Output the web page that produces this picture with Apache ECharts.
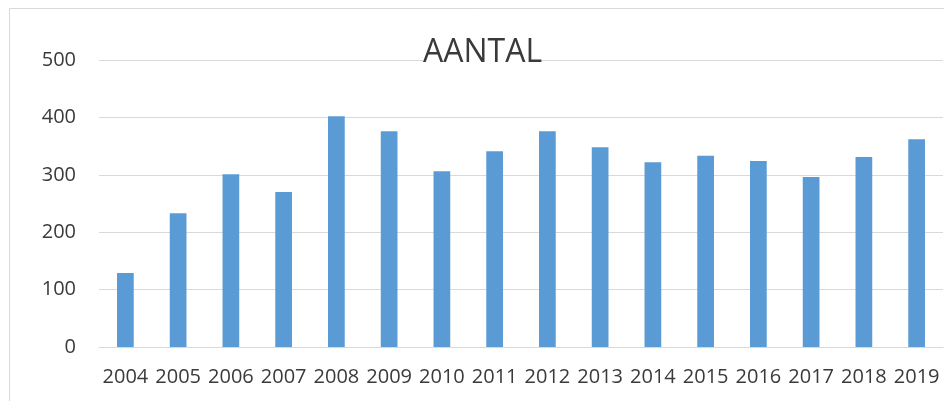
<!DOCTYPE html>
<html>
<head>
<meta charset="utf-8">
<style>
  html, body { margin: 0; padding: 0; background: #fff; }
  #chart { width: 944px; height: 401px; }
</style>
<script src="https://cdn.jsdelivr.net/npm/echarts@6/dist/echarts.min.js"></script>
</head>
<body>
<div id="chart"></div>
<script>
var years = ["2004", "2005", "2006", "2007", "2008", "2009", "2010", "2011",
  "2012", "2013", "2014", "2015", "2016", "2017", "2018", "2019"];
var aantal = [129, 233, 301, 270, 402, 376, 306, 341, 376, 348, 322, 333, 324, 296, 331, 362];
var yTicks = [0, 100, 200, 300, 400, 500];

var chart = echarts.init(document.getElementById("chart"));

chart.setOption({
  animation: false,
  textStyle: { fontFamily: "Open Sans" },
  graphic: [
    {
      type: "rect",
      shape: { x: 9.5, y: 8.5, width: 1000, height: 500 },
      style: { fill: "none", stroke: "#d9d9d9", lineWidth: 1 },
      z: -1
    }
  ],
  title: {
    text: "AANTAL",
    left: 423,
    top: 37,
    padding: 0,
    backgroundColor: "#fff",
    textStyle: { fontFamily: "Open Sans", fontSize: 32, fontWeight: "normal", color: "#3a3a3a" }
  },
  grid: { left: 99, right: 1, top: 60, bottom: 54, containLabel: false },
  xAxis: {
    type: "category",
    data: years,
    axisLine: { show: true, lineStyle: { color: "#d9d9d9" } },
    axisTick: { show: false },
    axisLabel: { color: "#3a3a3a", fontSize: 20, margin: 20, interval: 0 }
  },
  yAxis: {
    type: "value",
    min: yTicks[0],
    max: yTicks[yTicks.length - 1],
    interval: 100,
    axisLine: { show: false },
    axisTick: { show: false },
    axisLabel: { color: "#3a3a3a", fontSize: 20, margin: 23 },
    splitLine: { lineStyle: { color: "#d9d9d9" } }
  },
  series: [
    {
      type: "bar",
      data: aantal,
      barWidth: "31.7%",
      itemStyle: { color: "#5b9bd5" }
    }
  ]
});
</script>
</body>
</html>
